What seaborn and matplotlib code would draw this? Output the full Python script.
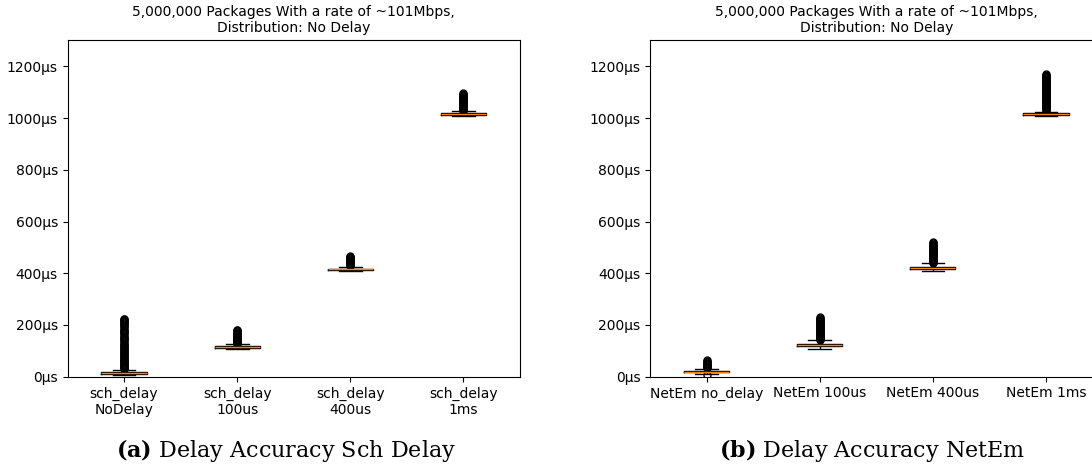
import numpy as np
import pandas as pd
import matplotlib
matplotlib.use("Agg")
import matplotlib.pyplot as plt
import seaborn as sns
from matplotlib.ticker import FuncFormatter

plt.rcParams['mathtext.fontset'] = 'dejavuserif'

TITLE = "5,000,000 Packages With a rate of ~101Mbps,\nDistribution: No Delay"

# ---- Left panel: sch_delay ----
sch_labels = ["sch_delay\nNoDelay", "sch_delay\n100us", "sch_delay\n400us", "sch_delay\n1ms"]
sch_whislo = [5, 107, 408, 1008]
sch_q1 = [11, 112, 412, 1012]
sch_median = [15, 115, 415, 1015]
sch_q3 = [18, 118, 418, 1018]
sch_whishi = [25, 126, 426, 1026]
sch_fliers_nodelay = [29, 32, 35, 38, 41, 44, 47, 50, 53, 56, 59, 62, 66, 70, 73, 77, 80,
                      84, 88, 91, 95, 99, 103, 107, 111, 115, 119, 124, 128, 132, 137, 141,
                      146, 150, 155, 159, 164, 168, 173, 177, 182, 186, 191, 195, 199, 203,
                      207, 211, 215, 219, 222, 225]
sch_fliers_100 = [128, 131, 134, 137, 140, 143, 146, 149, 152, 155, 158, 161, 164, 167,
                  170, 173, 176, 179, 182]
sch_fliers_400 = [428, 431, 434, 437, 440, 443, 446, 449, 452, 455, 458, 461, 464, 467]
sch_fliers_1ms = [1028, 1031, 1034, 1037, 1040, 1043, 1046, 1049, 1052, 1055, 1058, 1061,
                  1064, 1067, 1070, 1073, 1076, 1079, 1082, 1085, 1088, 1091, 1094, 1097]

# ---- Right panel: NetEm ----
netem_labels = ["NetEm no_delay", "NetEm 100us", "NetEm 400us", "NetEm 1ms"]
netem_whislo = [9, 108, 409, 1009]
netem_q1 = [17, 120, 418, 1013]
netem_median = [20, 124, 422, 1016]
netem_q3 = [23, 128, 426, 1019]
netem_whishi = [31, 140, 436, 1025]
netem_fliers_nodelay = [5, 33, 36, 39, 42, 45, 48, 51, 54, 57, 60, 63]
netem_fliers_100 = [142, 145, 148, 151, 154, 157, 160, 163, 166, 169, 172, 175, 178, 181,
                    184, 187, 190, 193, 196, 199, 202, 205, 208, 211, 214, 217, 220, 223,
                    226, 229]
netem_fliers_400 = [438, 441, 444, 447, 450, 453, 456, 459, 462, 465, 468, 471, 474, 477,
                    480, 483, 486, 489, 492, 495, 498, 501, 504, 507, 510, 513, 516, 519]
netem_fliers_1ms = [1029, 1032, 1035, 1038, 1041, 1044, 1047, 1050, 1053, 1056, 1059, 1062,
                    1065, 1068, 1071, 1074, 1077, 1080, 1083, 1086, 1089, 1092, 1095, 1098,
                    1101, 1104, 1107, 1110, 1113, 1116, 1119, 1122, 1125, 1128, 1131, 1134,
                    1137, 1140, 1143, 1146, 1149, 1152, 1155, 1158, 1161, 1164, 1167, 1170]

sch_fliers = [sch_fliers_nodelay, sch_fliers_100, sch_fliers_400, sch_fliers_1ms]
netem_fliers = [netem_fliers_nodelay, netem_fliers_100, netem_fliers_400, netem_fliers_1ms]


def build_table(labels, whislo, q1, med, q3, whishi, fliers, n=400):
    frames = []
    for lab, lo, a, m, b, hi, fl in zip(labels, whislo, q1, med, q3, whishi, fliers):
        vals = [lo] + [a] * n + [m] * n + [b] * n + [hi] + list(fl)
        frames.append(pd.DataFrame({"case": lab, "delay": vals}))
    return pd.concat(frames, ignore_index=True)


df_sch = build_table(sch_labels, sch_whislo, sch_q1, sch_median, sch_q3, sch_whishi, sch_fliers)
df_net = build_table(netem_labels, netem_whislo, netem_q1, netem_median, netem_q3,
                     netem_whishi, netem_fliers)

W, H = 1092, 469
fig = plt.figure(figsize=(W / 100, H / 100), dpi=100)
ax_l = fig.add_axes([67.5 / W, 1 - 376.7 / H, 452.5 / W, 336.2 / H])
ax_r = fig.add_axes([650 / W, 1 - 376.7 / H, 452.5 / W, 336.2 / H])

fmt = FuncFormatter(lambda v, p: f"{v:.0f}µs")
FS = 10

for ax, df, labels in [(ax_l, df_sch, sch_labels), (ax_r, df_net, netem_labels)]:
    sns.boxplot(data=df, x="case", y="delay", order=labels, ax=ax, width=0.4,
                fill=False, color="black", linewidth=1.0, fliersize=5,
                medianprops={"color": "#ff7f0e"},
                flierprops={"marker": "o", "markerfacecolor": "none",
                            "markeredgewidth": 1.0})
    ax.set_xlabel("")
    ax.set_ylabel("")
    ax.set_xlim(-0.5, 3.5)
    ax.set_ylim(0, 1300)
    ax.set_yticks([0, 200, 400, 600, 800, 1000, 1200])
    ax.yaxis.set_major_formatter(fmt)
    ax.tick_params(labelsize=FS)
    ax.set_title(TITLE, fontsize=FS)

fig.text(285.6 / W, 1 - 457 / H, r"$\mathbf{(a)}$ Delay Accuracy Sch Delay",
         ha="center", va="baseline", fontsize=16, family="DejaVu Serif")
fig.text(872 / W, 1 - 457 / H, r"$\mathbf{(b)}$ Delay Accuracy NetEm",
         ha="center", va="baseline", fontsize=16, family="DejaVu Serif")

fig.savefig("out.png", dpi=100)
